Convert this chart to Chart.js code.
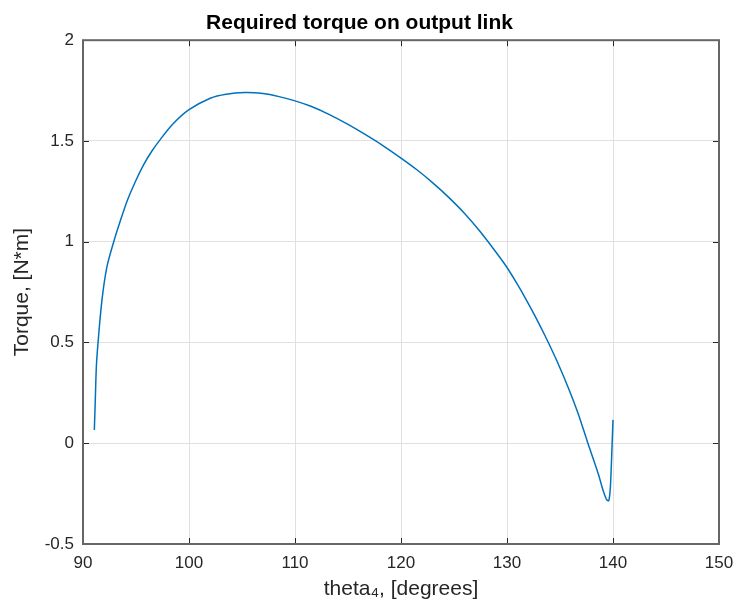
<!DOCTYPE html>
<html>
<head>
<meta charset="utf-8">
<script src="https://cdn.jsdelivr.net/npm/chart.js@4"></script>
<style>
  html, body { margin: 0; padding: 0; background: #fff; }
  #wrap { width: 737px; height: 606px; }
</style>
</head>
<body>
<div id="wrap"><canvas id="torqueChart" width="737" height="606"></canvas></div>
<script>
// theta4 [deg] and torque [N*m]
let theta4 = [91.07, 91.16, 91.26, 91.42, 91.79, 92.26, 92.9, 93.5, 94.2, 95.0, 95.7, 96.5, 97.3, 98.5, 100, 102, 103.5,
    105.3, 107, 108.5, 110, 111.5, 113.2, 115, 117, 118.5, 120, 121.5, 123, 124.5, 126, 127.5, 129, 130, 131, 131.7,
    132.6, 133.6, 134.7, 135.8, 136.7, 137.6, 138.6, 139.1, 139.4, 139.6, 139.75, 139.85, 139.92, 140.0];
let torque = [0.066, 0.215, 0.38, 0.5, 0.711, 0.876, 1.0, 1.1, 1.207, 1.305, 1.38, 1.45, 1.508, 1.585, 1.655, 1.712, 1.732,
    1.74, 1.735, 1.72, 1.699, 1.672, 1.632, 1.582, 1.52, 1.47, 1.415, 1.357, 1.292, 1.22, 1.14, 1.048, 0.945, 0.872, 0.787, 0.723,
    0.636, 0.532, 0.409, 0.273, 0.149, 0.005, -0.15, -0.24, -0.28, -0.285, -0.22, -0.1, 0, 0.116];

let xTicks = [90, 100, 110, 120, 130, 140, 150];
let yTicks = [-0.5, 0, 0.5, 1, 1.5, 2];

let points = theta4.map((t, i) => ({ x: t, y: torque[i] }));

const fontFam = '"Liberation Sans", Arial, sans-serif';

// box round the axes plus inward tick marks, matlab style
const boxPlugin = {
    id: 'boxPlugin',
    afterDraw(chart) {
        const ctx = chart.ctx;
        const a = chart.chartArea;
        const xs = chart.scales.x;
        const ys = chart.scales.y;
        ctx.save();
        ctx.strokeStyle = '#262626';
        ctx.lineWidth = 1;
        xTicks.forEach(v => {
            let px = Math.round(xs.getPixelForValue(v)) + 0.5;
            ctx.beginPath();
            ctx.moveTo(px, a.bottom); ctx.lineTo(px, a.bottom - 6);
            ctx.moveTo(px, a.top); ctx.lineTo(px, a.top + 6);
            ctx.stroke();
        });
        yTicks.forEach(v => {
            let py = Math.round(ys.getPixelForValue(v)) + 0.5;
            ctx.beginPath();
            ctx.moveTo(a.left, py); ctx.lineTo(a.left + 6, py);
            ctx.moveTo(a.right, py); ctx.lineTo(a.right - 6, py);
            ctx.stroke();
        });
        ctx.strokeStyle = '#666666';
        ctx.lineWidth = 2;
        ctx.strokeRect(a.left, a.top, a.right - a.left, a.bottom - a.top);
        ctx.restore();
    }
};

new Chart('torqueChart', {
    type: 'scatter',
    data: {
        datasets: [{
            data: points,
            showLine: true,
            borderColor: '#0072BD',
            borderWidth: 1.5,
            pointRadius: 0,
            tension: 0.3
        }]
    },
    options: {
        responsive: false,
        animation: false,
        layout: { padding: { top: 0, right: 18, bottom: 0, left: 0 } },
        plugins: {
            legend: { display: false },
            tooltip: { enabled: false },
            title: {
                display: true,
                text: 'Required torque on output link',
                color: '#000',
                font: { family: fontFam, size: 21, weight: 'bold' },
                padding: { top: 11, bottom: 4 }
            }
        },
        scales: {
            x: {
                type: 'linear',
                min: 90,
                max: 150,
                afterBuildTicks: s => { s.ticks = xTicks.map(v => ({ value: v })); },
                afterFit: s => { s.height = 62; s.paddingLeft = 0; s.paddingRight = 0; },
                grid: { color: '#e0e0e0', drawTicks: false },
                border: { display: false },
                ticks: { color: '#262626', font: { family: fontFam, size: 17 }, padding: 9, callback: v => String(v) },
                title: {
                    display: true,
                    text: 'theta₄, [degrees]',
                    color: '#262626',
                    font: { family: fontFam, size: 21 },
                    padding: { top: 2, bottom: 4 }
                }
            },
            y: {
                type: 'linear',
                min: -0.5,
                max: 2,
                afterBuildTicks: s => { s.ticks = yTicks.map(v => ({ value: v })); },
                afterFit: s => { s.width = 83; s.paddingTop = 0; s.paddingBottom = 0; },
                grid: { color: '#e0e0e0', drawTicks: false },
                border: { display: false },
                ticks: { color: '#262626', font: { family: fontFam, size: 17 }, padding: 9, callback: v => String(v) },
                title: {
                    display: true,
                    text: 'Torque, [N*m]',
                    color: '#262626',
                    font: { family: fontFam, size: 21 },
                    padding: { top: 10, bottom: 10 }
                }
            }
        }
    },
    plugins: [boxPlugin]
});
</script>
</body>
</html>
